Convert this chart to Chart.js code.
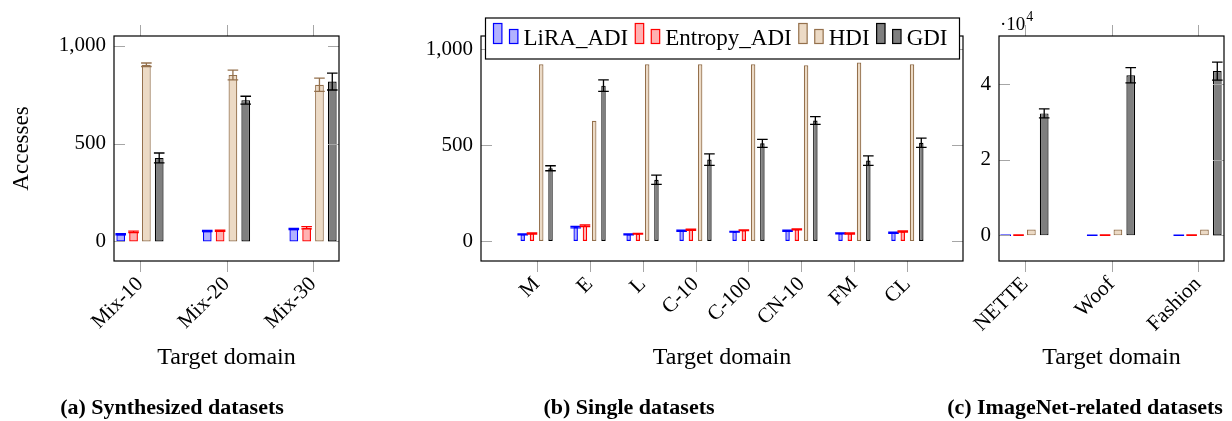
<!DOCTYPE html>
<html>
<head>
<meta charset="utf-8">
<title>Accesses per target domain</title>
<script src="https://cdn.jsdelivr.net/npm/chart.js@4.4.0/dist/chart.umd.min.js"></script>
<style>
  html, body { margin: 0; background: #fff; }
  #page { position: relative; width: 1232px; height: 421px; overflow: hidden; }
  #page canvas { position: absolute; left: 0; top: 0; }
  .sub {
    position: absolute; top: 395px; width: 400px; text-align: center;
    font: bold 22px "Liberation Serif", serif; line-height: 24px; color: #000;
  }
</style>
</head>
<body>
<div id="page">
  <canvas id="chartA" width="1232" height="421"></canvas>
  <canvas id="chartB" width="1232" height="421"></canvas>
  <canvas id="chartC" width="1232" height="421"></canvas>
  <div class="sub" style="left:-28px">(a) Synthesized datasets</div>
  <div class="sub" style="left:429px">(b) Single datasets</div>
  <div class="sub" style="left:885px">(c) ImageNet-related datasets</div>
</div>
<script>
// series shared by the three panels
const seriesNames = ['LiRA_ADI', 'Entropy_ADI', 'HDI', 'GDI'];

// (a) synthesized datasets
const catsA = ['Mix-10', 'Mix-20', 'Mix-30'];
const liraA = [37, 53, 63];
const liraErrA = [3, 3, 3];
const entropyA = [49, 55, 70];
const entropyErrA = [4, 3, 6];
const hdiA = [903, 851, 801];
const hdiErrA = [9, 25, 34];
const gdiA = [427, 722, 817];
const gdiErrA = [25, 20, 43];
const yTicksA = [0, 500, 1000];

// (b) single datasets
const catsB = ['M', 'E', 'L', 'C-10', 'C-100', 'CN-10', 'FM', 'CL'];
const liraB = [35, 73, 35, 54, 49, 54, 40, 43];
const liraErrB = [2, 4, 2, 3, 2, 3, 2, 3];
const entropyB = [40, 80, 38, 59, 56, 61, 40, 50];
const entropyErrB = [3, 4, 2, 3, 2, 3, 3, 3];
const hdiB = [922, 628, 922, 922, 922, 917, 932, 922];
const gdiB = [380, 811, 320, 425, 510, 629, 420, 513];
const gdiErrB = [13, 30, 24, 30, 21, 20, 25, 24];
const yTicksB = [0, 500, 1000];

// (c) ImageNet-related datasets
const catsC = ['NETTE', 'Woof', 'Fashion'];
const liraC = [35, 40, 38];
const liraErrC = [40, 40, 40];
const entropyC = [50, 52, 48];
const entropyErrC = [40, 40, 40];
const hdiC = [1550, 1550, 1550];
const gdiC = [32300, 42400, 43500];
const gdiErrC = [1200, 2000, 2400];
const yTicksC = [0, 20000, 40000];

Chart.defaults.font.family = '"Liberation Serif", "Times New Roman", serif';
Chart.defaults.color = '#000';

const fills = ['rgba(0,0,255,0.3)', 'rgba(255,0,0,0.3)', '#ecdac5', '#7f7f7f'];
const strokes = ['#0000ff', '#ff0000', '#94704c', '#000000'];

const errorBarPlugin = {
    id: 'errorBars',
    afterDatasetsDraw(chart) {
        const ctx = chart.ctx;
        const ys = chart.scales.y;
        chart.data.datasets.forEach((ds, i) => {
            if (!ds.errors) return;
            const meta = chart.getDatasetMeta(i);
            ctx.save();
            ctx.strokeStyle = ds.borderColor;
            ctx.lineWidth = 1.3;
            ctx.beginPath();
            meta.data.forEach((bar, j) => {
                const v = ds.data[j].y, e = ds.errors[j];
                const top = ys.getPixelForValue(v + e);
                const bot = ys.getPixelForValue(v - e);
                ctx.moveTo(bar.x, top); ctx.lineTo(bar.x, bot);
                ctx.moveTo(bar.x - 5.3, top); ctx.lineTo(bar.x + 5.3, top);
                ctx.moveTo(bar.x - 5.3, bot); ctx.lineTo(bar.x + 5.3, bot);
            });
            ctx.stroke();
            ctx.restore();
        });
    }
};

// box around the plot, ticks inside for y and outside for x
const framePlugin = {
    id: 'frame',
    afterDraw(chart) {
        const { ctx, chartArea: a, scales: { x, y } } = chart;
        ctx.save();
        ctx.strokeStyle = '#a6a6a6';
        ctx.lineWidth = 1;
        ctx.beginPath();
        x.ticks.forEach(t => {
            const px = Math.round(x.getPixelForValue(t.value)) + 0.5;
            ctx.moveTo(px, a.top); ctx.lineTo(px, a.top - 11);
            ctx.moveTo(px, a.bottom); ctx.lineTo(px, a.bottom + 11);
        });
        y.ticks.forEach(t => {
            const py = Math.round(y.getPixelForValue(t.value)) + 0.5;
            ctx.moveTo(a.left, py); ctx.lineTo(a.left + 11, py);
            ctx.moveTo(a.right, py); ctx.lineTo(a.right - 11, py);
        });
        ctx.stroke();
        ctx.strokeStyle = '#000';
        ctx.lineWidth = 1.2;
        ctx.strokeRect(a.left, a.top, a.right - a.left, a.bottom - a.top);
        ctx.restore();
    }
};

const legendPlugin = {
    id: 'boxLegend',
    afterDraw(chart) {
        const { ctx, chartArea: a } = chart;
        const x0 = a.left + 4.5, y0 = a.top - 18, w = 474, h = 41;
        ctx.save();
        ctx.fillStyle = '#fff';
        ctx.fillRect(x0, y0, w, h);
        ctx.strokeStyle = '#000';
        ctx.lineWidth = 1.2;
        ctx.strokeRect(x0, y0, w, h);
        ctx.font = '23px "Liberation Serif", serif';
        ctx.textBaseline = 'alphabetic';
        let x = x0 + 8;
        const base = y0 + 25.5;
        chart.data.datasets.forEach(ds => {
            ctx.fillStyle = ds.backgroundColor;
            ctx.strokeStyle = ds.borderColor;
            ctx.lineWidth = 1.2;
            ctx.fillRect(x, base - 20, 8.4, 20);
            ctx.strokeRect(x, base - 20, 8.4, 20);
            ctx.fillRect(x + 16, base - 14, 8.4, 14);
            ctx.strokeRect(x + 16, base - 14, 8.4, 14);
            ctx.fillStyle = '#000';
            ctx.fillText(ds.label, x + 30, base + 1);
            x += 30 + ctx.measureText(ds.label).width + 7;
        });
        ctx.restore();
    }
};

const exponentPlugin = {
    id: 'exponent',
    afterDraw(chart) {
        const { ctx, chartArea: a } = chart;
        ctx.save();
        ctx.fillStyle = '#000';
        ctx.textBaseline = 'alphabetic';
        ctx.font = '19px "Liberation Serif", serif';
        ctx.fillText('·10', a.left + 1, a.top - 6.5);
        const w = ctx.measureText('·10').width;
        ctx.font = '14px "Liberation Serif", serif';
        ctx.fillText('4', a.left + 2 + w, a.top - 15.5);
        ctx.restore();
    }
};

function makeChart(id, cfg) {
    const xHeight = 111;
    const datasets = seriesNames.map((name, s) => ({
        label: name,
        data: cfg.cats.map((c, i) => ({ x: i, y: cfg.values[s][i] })),
        errors: cfg.errors[s],
        backgroundColor: fills[s],
        borderColor: strokes[s],
        borderWidth: 1.2,
        borderSkipped: false,
        barPercentage: cfg.barPct,
        categoryPercentage: cfg.catPct
    }));
    return new Chart(document.getElementById(id), {
        type: 'bar',
        data: { datasets },
        options: {
            responsive: false,
            animation: false,
            events: [],
            layout: {
                padding: {
                    left: cfg.area.left - cfg.yWidth,
                    right: 1232 - cfg.area.right,
                    top: cfg.area.top,
                    bottom: 421 - cfg.area.bottom - xHeight
                }
            },
            plugins: { legend: { display: false }, tooltip: { enabled: false } },
            scales: {
                x: {
                    type: 'linear',
                    offset: false,
                    min: cfg.xRange[0],
                    max: cfg.xRange[1],
                    grid: { display: false, drawTicks: false, offset: false },
                    border: { display: false },
                    afterBuildTicks: s => { s.ticks = cfg.cats.map((c, i) => ({ value: i })); },
                    afterFit: s => { s.height = xHeight; },
                    ticks: {
                        autoSkip: false, minRotation: 45, maxRotation: 45, padding: 11,
                        font: { size: 21 },
                        callback: v => cfg.cats[v]
                    },
                    title: { display: true, text: 'Target domain', font: { size: 24 }, padding: 0 }
                },
                y: {
                    min: cfg.yRange[0],
                    max: cfg.yRange[1],
                    grid: { display: false, drawTicks: false },
                    border: { display: false },
                    afterBuildTicks: s => { s.ticks = cfg.yTicks.map(v => ({ value: v })); },
                    afterFit: s => { s.width = cfg.yWidth; },
                    ticks: { padding: 8, font: { size: 21 }, callback: cfg.tickFmt },
                    title: {
                        display: !!cfg.yTitle, text: cfg.yTitle || '',
                        font: { size: 23 }, padding: { top: 8, bottom: 0 }
                    }
                }
            }
        },
        plugins: [errorBarPlugin, framePlugin].concat(cfg.extra || [])
    });
}

const commaFmt = v => v.toLocaleString('en-US');

makeChart('chartA', {
    cats: catsA,
    values: [liraA, entropyA, hdiA, gdiA],
    errors: [liraErrA, entropyErrA, hdiErrA, gdiErrA],
    yTicks: yTicksA, yRange: [-100, 1050], xRange: [-0.3, 2.3],
    area: { left: 114, right: 339, top: 36, bottom: 261 },
    yWidth: 114, barPct: 0.68, catPct: 0.593,
    yTitle: 'Accesses', tickFmt: commaFmt
});

makeChart('chartB', {
    cats: catsB,
    values: [liraB, entropyB, hdiB, gdiB],
    errors: [liraErrB, entropyErrB, null, gdiErrB],
    yTicks: yTicksB, yRange: [-104, 1070], xRange: [-1.05, 8.05],
    area: { left: 481, right: 963, top: 36, bottom: 261 },
    yWidth: 60, barPct: 0.48, catPct: 0.70,
    tickFmt: commaFmt, extra: [legendPlugin]
});

makeChart('chartC', {
    cats: catsC,
    values: [liraC, entropyC, hdiC, gdiC],
    errors: [liraErrC, entropyErrC, null, gdiErrC],
    yTicks: yTicksC, yRange: [-6800, 52800], xRange: [-0.3, 2.3],
    area: { left: 999, right: 1224, top: 36, bottom: 261 },
    yWidth: 60, barPct: 0.68, catPct: 0.593,
    tickFmt: v => String(v / 10000), extra: [exponentPlugin]
});
</script>
</body>
</html>
